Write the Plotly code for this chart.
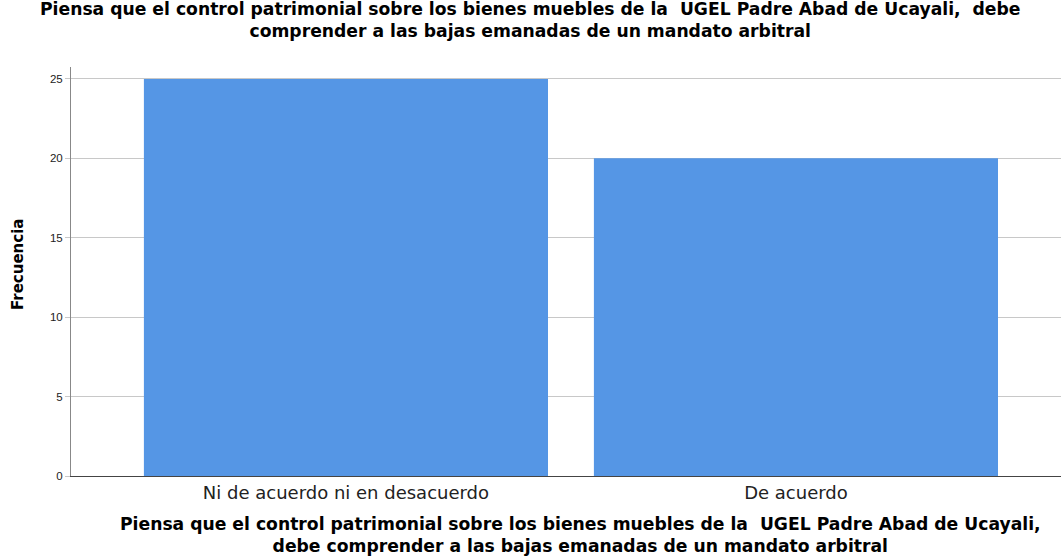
import plotly.graph_objects as go

categorias = ["Ni de acuerdo ni en desacuerdo", "De acuerdo"]
frecuencias = [25, 20]
y_ticks = [0, 5, 10, 15, 20, 25]

titulo = ("Piensa que el control patrimonial sobre los bienes muebles de la\u00a0 UGEL Padre Abad de Ucayali,\u00a0 debe"
          "<br>comprender a las bajas emanadas de un mandato arbitral")
titulo_x = ("Piensa que el control patrimonial sobre los bienes muebles de la\u00a0 UGEL Padre Abad de Ucayali,"
            "<br>debe comprender a las bajas emanadas de un mandato arbitral")

L, T, B, W, H = 71, 67, 81, 1061, 557
plot_h = H - T - B
plot_w = W - L


def px_x(x):
    return (x - L) / plot_w


def px_y(y):
    return (H - B - y) / plot_h


fig = go.Figure()
fig.add_trace(go.Bar(
    x=[0, 1], y=frecuencias, width=0.898,
    marker=dict(color="#5596e5", line=dict(width=0)),
    hoverinfo="skip",
))

fig.update_layout(
    width=W, height=H,
    paper_bgcolor="white", plot_bgcolor="white",
    margin=dict(l=L, r=0, t=T, b=B, autoexpand=False),
    showlegend=False,
    font=dict(family="DejaVu Sans, Liberation Sans, Arial, sans-serif", color="black"),
)

bold = dict(family="DejaVu Sans", size=17.2, color="black")
fig.add_annotation(text="<b>" + titulo + "</b>", xref="paper", yref="paper",
                   x=px_x(530), y=px_y(20), xanchor="center", yanchor="middle",
                   showarrow=False, font=bold)
fig.add_annotation(text="<b>" + titulo_x + "</b>", xref="paper", yref="paper",
                   x=px_x(580), y=px_y(535), xanchor="center", yanchor="middle",
                   showarrow=False, font=bold)
fig.add_annotation(text="<b>Frecuencia</b>", xref="paper", yref="paper",
                   x=px_x(18), y=px_y(265), xanchor="center", yanchor="middle",
                   textangle=-90, showarrow=False,
                   font=dict(family="DejaVu Sans", size=15, color="black"))

fig.update_xaxes(
    range=[-0.611, 1.589], tickvals=[0, 1], ticktext=categorias,
    showgrid=False, zeroline=False, showline=True, linecolor="#444444", linewidth=1,
    ticks="", automargin=False,
    tickfont=dict(family="DejaVu Sans", size=18, color="#222222"),
)
fig.update_yaxes(
    range=[0, 25.75], tickvals=y_ticks,
    showgrid=True, gridcolor="#c8c8c8", gridwidth=1, zeroline=False,
    showline=True, linecolor="#888888", linewidth=1,
    ticks="outside", ticklen=5, tickcolor="#c8c8c8", automargin=False,
    tickfont=dict(family="Liberation Sans", size=11.5, color="#222222"),
)

# quitar el margen del body para que la figura quede en (0, 0)
fig.write_html("out.html", config={"displayModeBar": False},
               post_script="document.body.style.margin='0';")
